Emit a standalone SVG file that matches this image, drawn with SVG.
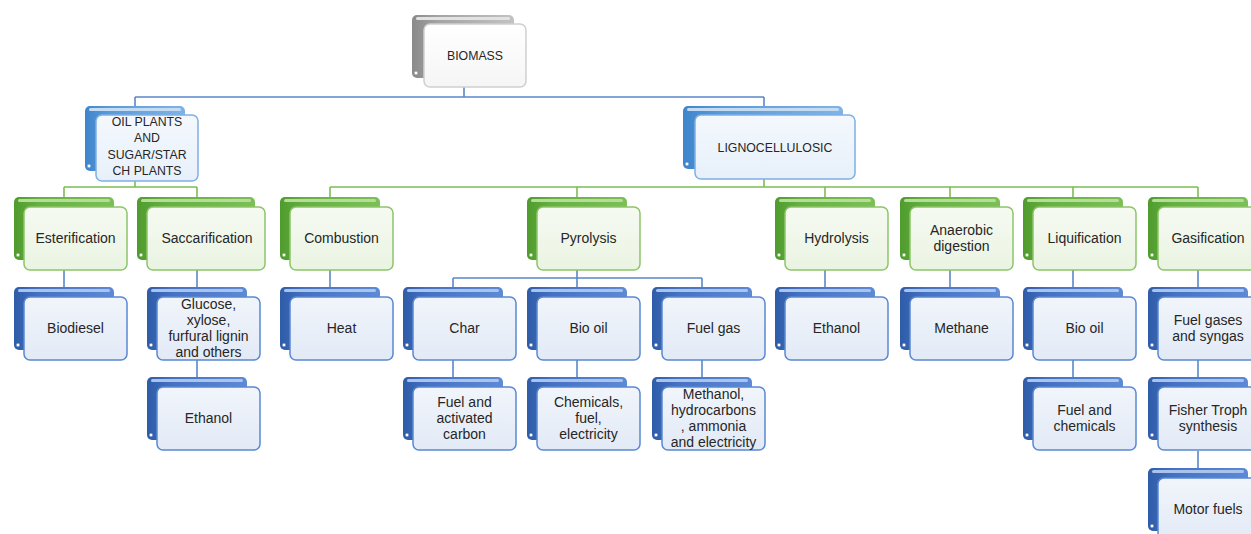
<svg xmlns="http://www.w3.org/2000/svg" width="1251" height="534" viewBox="0 0 1251 534">
<defs>
<linearGradient id="bkGreen" x1="0" y1="0" x2="1" y2="0"><stop offset="0" stop-color="#4f9b2d"/><stop offset="0.25" stop-color="#66b040"/><stop offset="1" stop-color="#7cc055"/></linearGradient>
<linearGradient id="bkBlue" x1="0" y1="0" x2="1" y2="0"><stop offset="0" stop-color="#2f5ca8"/><stop offset="0.25" stop-color="#4471c2"/><stop offset="1" stop-color="#5d8ad6"/></linearGradient>
<linearGradient id="bkBlueL" x1="0" y1="0" x2="1" y2="0"><stop offset="0" stop-color="#3f85cc"/><stop offset="0.25" stop-color="#5b9bd8"/><stop offset="1" stop-color="#7fb3e6"/></linearGradient>
<linearGradient id="bkGray" x1="0" y1="0" x2="1" y2="0"><stop offset="0" stop-color="#8a8a8a"/><stop offset="0.25" stop-color="#a3a3a3"/><stop offset="1" stop-color="#c2c2c2"/></linearGradient>
<linearGradient id="frGreen" x1="0" y1="0" x2="0" y2="1"><stop offset="0" stop-color="#f6faf2"/><stop offset="1" stop-color="#eaf4e2"/></linearGradient>
<linearGradient id="frBlue" x1="0" y1="0" x2="0" y2="1"><stop offset="0" stop-color="#f1f5fb"/><stop offset="1" stop-color="#e2eaf6"/></linearGradient>
<linearGradient id="frBlueL" x1="0" y1="0" x2="0" y2="1"><stop offset="0" stop-color="#f4f8fd"/><stop offset="1" stop-color="#e7f0fa"/></linearGradient>
<linearGradient id="frGray" x1="0" y1="0" x2="0" y2="1"><stop offset="0" stop-color="#ffffff"/><stop offset="1" stop-color="#f5f5f5"/></linearGradient>
</defs>
<style>
.back{stroke:none}
.hl{stroke:none}
.dot{fill:#ffffff;stroke-width:0.8}
.front{stroke-width:1.5}
.green .back{fill:url(#bkGreen)} .green .hl{fill:#b3dd98} .green .dot{stroke:#4f9b2d} .green .front{fill:url(#frGreen);stroke:#8cc56a}
.blue .back{fill:url(#bkBlue)} .blue .hl{fill:#a9c3ec} .blue .dot{stroke:#2f5ca8} .blue .front{fill:url(#frBlue);stroke:#5a88d2}
.bluel .back{fill:url(#bkBlueL)} .bluel .hl{fill:#c3dcf3} .bluel .dot{stroke:#3f85cc} .bluel .front{fill:url(#frBlueL);stroke:#7eb0e3}
.gray .back{fill:url(#bkGray)} .gray .hl{fill:#e2e2e2} .gray .dot{stroke:#8a8a8a} .gray .front{fill:url(#frGray);stroke:#cfcfcf}
text{font-family:"Liberation Sans",Arial,sans-serif;font-size:14px;fill:#262626;text-anchor:middle}
text.cap{font-size:12.3px}
.conn line{fill:none;stroke-width:1.6}
.conn .b{stroke:#5a86c8}
.conn .g{stroke:#7bbd52}
</style>

<g id="connectors" class="conn">
<line class="b" x1="464" y1="87" x2="464" y2="97"/>
<line class="b" x1="135" y1="97" x2="764" y2="97"/>
<line class="b" x1="135" y1="97" x2="135" y2="106"/>
<line class="b" x1="764" y1="97" x2="764" y2="106"/>
<line class="g" x1="135" y1="181" x2="135" y2="187"/>
<line class="g" x1="64" y1="187" x2="197" y2="187"/>
<line class="g" x1="64" y1="187" x2="64" y2="198"/>
<line class="g" x1="197" y1="187" x2="197" y2="198"/>
<line class="g" x1="764" y1="179" x2="764" y2="187"/>
<line class="g" x1="330" y1="187" x2="1198" y2="187"/>
<line class="g" x1="330" y1="187" x2="330" y2="198"/>
<line class="g" x1="577" y1="187" x2="577" y2="198"/>
<line class="g" x1="825" y1="187" x2="825" y2="198"/>
<line class="g" x1="950" y1="187" x2="950" y2="198"/>
<line class="g" x1="1073" y1="187" x2="1073" y2="198"/>
<line class="g" x1="1198" y1="187" x2="1198" y2="198"/>
<line class="b" x1="64" y1="270" x2="64" y2="288"/>
<line class="b" x1="197" y1="270" x2="197" y2="288"/>
<line class="b" x1="330" y1="270" x2="330" y2="288"/>
<line class="b" x1="577" y1="270" x2="577" y2="278"/>
<line class="b" x1="453" y1="278" x2="702" y2="278"/>
<line class="b" x1="453" y1="278" x2="453" y2="288"/>
<line class="b" x1="577" y1="278" x2="577" y2="288"/>
<line class="b" x1="702" y1="278" x2="702" y2="288"/>
<line class="b" x1="825" y1="270" x2="825" y2="288"/>
<line class="b" x1="950" y1="270" x2="950" y2="288"/>
<line class="b" x1="1073" y1="270" x2="1073" y2="288"/>
<line class="b" x1="1198" y1="270" x2="1198" y2="288"/>
<line class="b" x1="197" y1="360" x2="197" y2="378"/>
<line class="b" x1="453" y1="360" x2="453" y2="378"/>
<line class="b" x1="577" y1="360" x2="577" y2="378"/>
<line class="b" x1="702" y1="360" x2="702" y2="378"/>
<line class="b" x1="1073" y1="360" x2="1073" y2="378"/>
<line class="b" x1="1198" y1="360" x2="1198" y2="378"/>
<line class="b" x1="1198" y1="451" x2="1198" y2="469"/>
</g>

<g id="n-biomass" class="gray">
<rect class="back" x="412" y="15" width="102" height="63" rx="5"/>
<rect class="hl" x="416" y="17" width="94" height="3" rx="1.5"/>
<circle class="dot" cx="416" cy="73" r="2"/>
<rect class="front" x="424" y="24" width="102" height="63" rx="6"/>
<text class="cap" x="475" y="60">BIOMASS</text>
</g>

<g id="n-oilplants" class="bluel">
<rect class="back" x="85" y="106" width="100" height="65" rx="5"/>
<rect class="hl" x="89" y="108" width="92" height="3" rx="1.5"/>
<circle class="dot" cx="89" cy="166" r="2"/>
<rect class="front" x="96" y="115" width="102" height="66" rx="6"/>
<text class="cap" x="147"><tspan x="147" y="126">OIL PLANTS</tspan><tspan x="147" y="142">AND</tspan><tspan x="147" y="158.5">SUGAR/STAR</tspan><tspan x="147" y="175">CH PLANTS</tspan></text>
</g>

<g id="n-ligno" class="bluel">
<rect class="back" x="683" y="106" width="160" height="63" rx="5"/>
<rect class="hl" x="687" y="108" width="152" height="3" rx="1.5"/>
<circle class="dot" cx="687" cy="164" r="2"/>
<rect class="front" x="695" y="115" width="160" height="64" rx="6"/>
<text class="cap" x="775" y="151.5">LIGNOCELLULOSIC</text>
</g>

<g id="n-esterification" class="green">
<rect class="back" x="14" y="197" width="100" height="63" rx="5"/>
<rect class="hl" x="18" y="199" width="92" height="3" rx="1.5"/>
<circle class="dot" cx="18" cy="255" r="2"/>
<rect class="front" x="24" y="207" width="103" height="63" rx="6"/>
<text x="75.5" y="243">Esterification</text>
</g>

<g id="n-saccarification" class="green">
<rect class="back" x="137" y="197" width="118" height="63" rx="5"/>
<rect class="hl" x="141" y="199" width="110" height="3" rx="1.5"/>
<circle class="dot" cx="141" cy="255" r="2"/>
<rect class="front" x="147" y="207" width="118" height="63" rx="6"/>
<text x="207" y="243">Saccarification</text>
</g>

<g id="n-combustion" class="green">
<rect class="back" x="280" y="197" width="100" height="63" rx="5"/>
<rect class="hl" x="284" y="199" width="92" height="3" rx="1.5"/>
<circle class="dot" cx="284" cy="255" r="2"/>
<rect class="front" x="290" y="207" width="103" height="63" rx="6"/>
<text x="341.5" y="243">Combustion</text>
</g>

<g id="n-pyrolysis" class="green">
<rect class="back" x="527" y="197" width="100" height="63" rx="5"/>
<rect class="hl" x="531" y="199" width="92" height="3" rx="1.5"/>
<circle class="dot" cx="531" cy="255" r="2"/>
<rect class="front" x="537" y="207" width="103" height="63" rx="6"/>
<text x="588.5" y="243">Pyrolysis</text>
</g>

<g id="n-hydrolysis" class="green">
<rect class="back" x="775" y="197" width="100" height="63" rx="5"/>
<rect class="hl" x="779" y="199" width="92" height="3" rx="1.5"/>
<circle class="dot" cx="779" cy="255" r="2"/>
<rect class="front" x="785" y="207" width="103" height="63" rx="6"/>
<text x="836.5" y="243">Hydrolysis</text>
</g>

<g id="n-anaerobic" class="green">
<rect class="back" x="900" y="197" width="100" height="63" rx="5"/>
<rect class="hl" x="904" y="199" width="92" height="3" rx="1.5"/>
<circle class="dot" cx="904" cy="255" r="2"/>
<rect class="front" x="910" y="207" width="103" height="63" rx="6"/>
<text x="961.5"><tspan x="961.5" y="235">Anaerobic</tspan><tspan x="961.5" y="251">digestion</tspan></text>
</g>

<g id="n-liquification" class="green">
<rect class="back" x="1023" y="197" width="100" height="63" rx="5"/>
<rect class="hl" x="1027" y="199" width="92" height="3" rx="1.5"/>
<circle class="dot" cx="1027" cy="255" r="2"/>
<rect class="front" x="1033" y="207" width="103" height="63" rx="6"/>
<text x="1084.5" y="243">Liquification</text>
</g>

<g id="n-gasification" class="green">
<rect class="back" x="1148" y="197" width="100" height="63" rx="5"/>
<rect class="hl" x="1152" y="199" width="92" height="3" rx="1.5"/>
<circle class="dot" cx="1152" cy="255" r="2"/>
<rect class="front" x="1158" y="207" width="103" height="63" rx="6"/>
<text x="1208" y="243">Gasification</text>
</g>

<g id="n-biodiesel" class="blue">
<rect class="back" x="14" y="287" width="100" height="63" rx="5"/>
<rect class="hl" x="18" y="289" width="92" height="3" rx="1.5"/>
<circle class="dot" cx="18" cy="345" r="2"/>
<rect class="front" x="24" y="297" width="103" height="63" rx="6"/>
<text x="75.5" y="333">Biodiesel</text>
</g>

<g id="n-glucose" class="blue">
<rect class="back" x="147" y="287" width="100" height="63" rx="5"/>
<rect class="hl" x="151" y="289" width="92" height="3" rx="1.5"/>
<circle class="dot" cx="151" cy="345" r="2"/>
<rect class="front" x="157" y="297" width="103" height="63" rx="6"/>
<text x="208.5"><tspan x="208.5" y="309">Glucose,</tspan><tspan x="208.5" y="325">xylose,</tspan><tspan x="208.5" y="341">furfural lignin</tspan><tspan x="208.5" y="357">and others</tspan></text>
</g>

<g id="n-heat" class="blue">
<rect class="back" x="280" y="287" width="100" height="63" rx="5"/>
<rect class="hl" x="284" y="289" width="92" height="3" rx="1.5"/>
<circle class="dot" cx="284" cy="345" r="2"/>
<rect class="front" x="290" y="297" width="103" height="63" rx="6"/>
<text x="341.5" y="333">Heat</text>
</g>

<g id="n-char" class="blue">
<rect class="back" x="403" y="287" width="100" height="63" rx="5"/>
<rect class="hl" x="407" y="289" width="92" height="3" rx="1.5"/>
<circle class="dot" cx="407" cy="345" r="2"/>
<rect class="front" x="413" y="297" width="103" height="63" rx="6"/>
<text x="464.5" y="333">Char</text>
</g>

<g id="n-biooil1" class="blue">
<rect class="back" x="527" y="287" width="100" height="63" rx="5"/>
<rect class="hl" x="531" y="289" width="92" height="3" rx="1.5"/>
<circle class="dot" cx="531" cy="345" r="2"/>
<rect class="front" x="537" y="297" width="103" height="63" rx="6"/>
<text x="588.5" y="333">Bio oil</text>
</g>

<g id="n-fuelgas" class="blue">
<rect class="back" x="652" y="287" width="100" height="63" rx="5"/>
<rect class="hl" x="656" y="289" width="92" height="3" rx="1.5"/>
<circle class="dot" cx="656" cy="345" r="2"/>
<rect class="front" x="662" y="297" width="103" height="63" rx="6"/>
<text x="713.5" y="333">Fuel gas</text>
</g>

<g id="n-ethanol1" class="blue">
<rect class="back" x="775" y="287" width="100" height="63" rx="5"/>
<rect class="hl" x="779" y="289" width="92" height="3" rx="1.5"/>
<circle class="dot" cx="779" cy="345" r="2"/>
<rect class="front" x="785" y="297" width="103" height="63" rx="6"/>
<text x="836.5" y="333">Ethanol</text>
</g>

<g id="n-methane" class="blue">
<rect class="back" x="900" y="287" width="100" height="63" rx="5"/>
<rect class="hl" x="904" y="289" width="92" height="3" rx="1.5"/>
<circle class="dot" cx="904" cy="345" r="2"/>
<rect class="front" x="910" y="297" width="103" height="63" rx="6"/>
<text x="961.5" y="333">Methane</text>
</g>

<g id="n-biooil2" class="blue">
<rect class="back" x="1023" y="287" width="100" height="63" rx="5"/>
<rect class="hl" x="1027" y="289" width="92" height="3" rx="1.5"/>
<circle class="dot" cx="1027" cy="345" r="2"/>
<rect class="front" x="1033" y="297" width="103" height="63" rx="6"/>
<text x="1084.5" y="333">Bio oil</text>
</g>

<g id="n-fuelgases" class="blue">
<rect class="back" x="1148" y="287" width="100" height="63" rx="5"/>
<rect class="hl" x="1152" y="289" width="92" height="3" rx="1.5"/>
<circle class="dot" cx="1152" cy="345" r="2"/>
<rect class="front" x="1158" y="297" width="103" height="63" rx="6"/>
<text x="1208"><tspan x="1208" y="325">Fuel gases</tspan><tspan x="1208" y="341">and syngas</tspan></text>
</g>

<g id="n-ethanol2" class="blue">
<rect class="back" x="147" y="377" width="100" height="63" rx="5"/>
<rect class="hl" x="151" y="379" width="92" height="3" rx="1.5"/>
<circle class="dot" cx="151" cy="435" r="2"/>
<rect class="front" x="157" y="387" width="103" height="63" rx="6"/>
<text x="208.5" y="423">Ethanol</text>
</g>

<g id="n-activatedcarbon" class="blue">
<rect class="back" x="403" y="377" width="100" height="63" rx="5"/>
<rect class="hl" x="407" y="379" width="92" height="3" rx="1.5"/>
<circle class="dot" cx="407" cy="435" r="2"/>
<rect class="front" x="413" y="387" width="103" height="63" rx="6"/>
<text x="464.5"><tspan x="464.5" y="407">Fuel and</tspan><tspan x="464.5" y="423">activated</tspan><tspan x="464.5" y="439">carbon</tspan></text>
</g>

<g id="n-chemicals" class="blue">
<rect class="back" x="527" y="377" width="100" height="63" rx="5"/>
<rect class="hl" x="531" y="379" width="92" height="3" rx="1.5"/>
<circle class="dot" cx="531" cy="435" r="2"/>
<rect class="front" x="537" y="387" width="103" height="63" rx="6"/>
<text x="588.5"><tspan x="588.5" y="407">Chemicals,</tspan><tspan x="588.5" y="423">fuel,</tspan><tspan x="588.5" y="439">electricity</tspan></text>
</g>

<g id="n-methanol" class="blue">
<rect class="back" x="652" y="377" width="100" height="63" rx="5"/>
<rect class="hl" x="656" y="379" width="92" height="3" rx="1.5"/>
<circle class="dot" cx="656" cy="435" r="2"/>
<rect class="front" x="662" y="387" width="103" height="63" rx="6"/>
<text x="713.5"><tspan x="713.5" y="399">Methanol,</tspan><tspan x="713.5" y="415">hydrocarbons</tspan><tspan x="713.5" y="431">, ammonia</tspan><tspan x="713.5" y="447">and electricity</tspan></text>
</g>

<g id="n-fuelchemicals" class="blue">
<rect class="back" x="1023" y="377" width="100" height="63" rx="5"/>
<rect class="hl" x="1027" y="379" width="92" height="3" rx="1.5"/>
<circle class="dot" cx="1027" cy="435" r="2"/>
<rect class="front" x="1033" y="387" width="103" height="63" rx="6"/>
<text x="1084.5"><tspan x="1084.5" y="415">Fuel and</tspan><tspan x="1084.5" y="431">chemicals</tspan></text>
</g>

<g id="n-fisher" class="blue">
<rect class="back" x="1148" y="377" width="100" height="63" rx="5"/>
<rect class="hl" x="1152" y="379" width="92" height="3" rx="1.5"/>
<circle class="dot" cx="1152" cy="435" r="2"/>
<rect class="front" x="1158" y="387" width="103" height="63" rx="6"/>
<text x="1208"><tspan x="1208" y="415">Fisher Troph</tspan><tspan x="1208" y="431">synthesis</tspan></text>
</g>

<g id="n-motorfuels" class="blue">
<rect class="back" x="1148" y="468" width="100" height="63" rx="5"/>
<rect class="hl" x="1152" y="470" width="92" height="3" rx="1.5"/>
<circle class="dot" cx="1152" cy="526" r="2"/>
<rect class="front" x="1158" y="478" width="103" height="63" rx="6"/>
<text x="1208" y="514">Motor fuels</text>
</g>
</svg>
